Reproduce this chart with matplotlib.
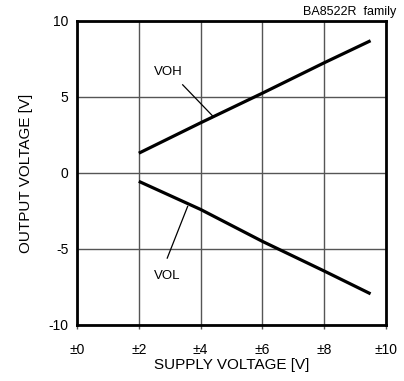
import matplotlib.pyplot as plt

plt.rcParams['font.family'] = ['Liberation Sans', 'DejaVu Sans']

# data
supply = [2, 4, 6, 8, 9.5]
voh = [1.3, 3.3, 5.25, 7.25, 8.7]
vol = [-0.55, -2.4, -4.5, -6.45, -7.95]

x_ticks = [0, 2, 4, 6, 8, 10]
x_labels = ["±0", "±2", "±4", "±6", "±8", "±10"]
y_ticks = [-10, -5, 0, 5, 10]

fig = plt.figure(figsize=(4.04, 3.81), dpi=100)
ax = fig.add_axes([0.1906, 0.147, 0.7649, 0.798])

ax.plot(supply, voh, color="black", linewidth=2.3, solid_capstyle="butt")
ax.plot(supply, vol, color="black", linewidth=2.3, solid_capstyle="butt")

# labels with leader lines
ax.text(2.95, 6.66, "VOH", fontsize=9.5, ha="center", va="center")
ax.plot([3.42, 4.38], [5.8, 3.77], color="black", linewidth=0.9)
ax.text(2.93, -6.8, "VOL", fontsize=9.5, ha="center", va="center")
ax.plot([2.92, 3.58], [-5.6, -2.2], color="black", linewidth=0.9)

ax.set_xlim(0, 10)
ax.set_ylim(-10, 10)
ax.set_xticks(x_ticks)
ax.set_xticklabels(x_labels, fontsize=10)
ax.set_yticks(y_ticks)
ax.set_yticklabels([str(v) for v in y_ticks], fontsize=10)
ax.tick_params(axis="x", length=3, width=1, color="#555555", pad=10)
ax.tick_params(axis="y", length=0, pad=6)
ax.grid(True, color="#555555", linewidth=1)
for s in ax.spines.values():
    s.set_linewidth(2)
    s.set_color("black")

ax.set_xlabel("SUPPLY VOLTAGE [V]", fontsize=11, labelpad=1)
ax.set_ylabel("OUTPUT VOLTAGE [V]", fontsize=11, labelpad=11)
fig.text(0.98, 0.985, "BA8522R  family", fontsize=9, ha="right", va="top")

fig.savefig("out.png", dpi=100)
